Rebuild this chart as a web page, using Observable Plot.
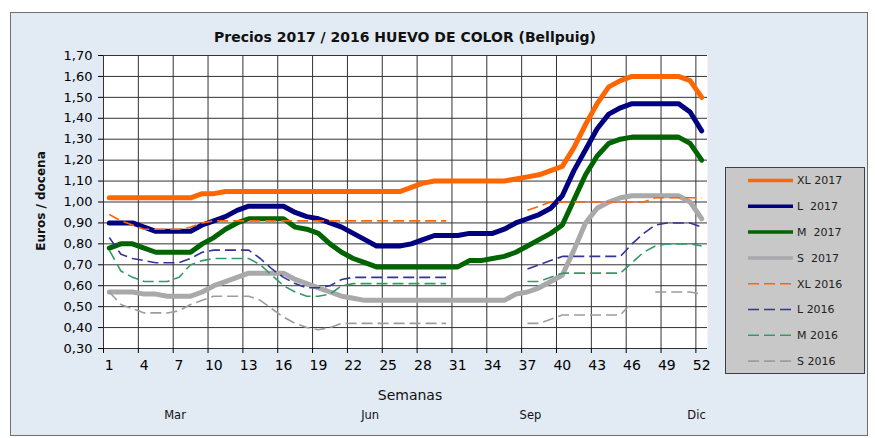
<!DOCTYPE html>
<html>
<head>
<meta charset="utf-8">
<script src="https://cdn.jsdelivr.net/npm/d3@7"></script>
<script src="https://cdn.jsdelivr.net/npm/@observablehq/plot@0.6"></script>
<style>
  body { margin: 0; background: #ffffff; }
  #chart svg text { font-family: "DejaVu Sans", Verdana, sans-serif; }
</style>
</head>
<body>
<div id="chart"></div>
<script>
// ---------------- DATA ----------------
const weeks = [1,2,3,4,5,6,7,8,9,10,11,12,13,14,15,16,17,18,19,20,21,22,23,24,25,26,
  27,28,29,30,31,32,33,34,35,36,37,38,39,40,41,42,43,44,45,46,47,48,49,50,51,52];

const xl2017 = [1.02,1.02,1.02,1.02,1.02,1.02,1.02,1.02,1.04,1.04,
  1.05,1.05,1.05,1.05,1.05,1.05,1.05,1.05,1.05,1.05,
  1.05,1.05,1.05,1.05,1.05,1.05,1.07,1.09,1.10,1.10,
  1.10,1.10,1.10,1.10,1.10,1.11,1.12,1.13,1.15,1.17,
  1.26,1.37,1.47,1.55,1.58,1.60,1.60,1.60,1.60,1.60,
  1.58,1.50];
const l2017 = [0.90,0.90,0.90,0.88,0.86,0.86,0.86,0.86,0.89,0.91,
  0.93,0.96,0.98,0.98,0.98,0.98,0.95,0.93,0.92,0.90,
  0.88,0.85,0.82,0.79,0.79,0.79,0.80,0.82,0.84,0.84,
  0.84,0.85,0.85,0.85,0.87,0.90,0.92,0.94,0.97,1.03,
  1.15,1.25,1.35,1.42,1.45,1.47,1.47,1.47,1.47,1.47,
  1.43,1.34];
const m2017 = [0.78,0.80,0.80,0.78,0.76,0.76,0.76,0.76,0.80,0.83,
  0.87,0.90,0.92,0.92,0.92,0.92,0.88,0.87,0.85,0.80,
  0.76,0.73,0.71,0.69,0.69,0.69,0.69,0.69,0.69,0.69,
  0.69,0.72,0.72,0.73,0.74,0.76,0.79,0.82,0.85,0.89,
  1.01,1.13,1.22,1.28,1.30,1.31,1.31,1.31,1.31,1.31,
  1.28,1.20];
const s2017 = [0.57,0.57,0.57,0.56,0.56,0.55,0.55,0.55,0.57,0.60,
  0.62,0.64,0.66,0.66,0.66,0.66,0.63,0.61,0.59,0.57,
  0.55,0.54,0.53,0.53,0.53,0.53,0.53,0.53,0.53,0.53,
  0.53,0.53,0.53,0.53,0.53,0.56,0.57,0.59,0.62,0.65,
  0.77,0.90,0.97,1.00,1.02,1.03,1.03,1.03,1.03,1.03,
  1.00,0.92];
const xl2016 = [0.94,0.91,0.89,0.87,0.87,0.87,0.87,0.88,0.90,0.91,
  0.91,0.91,0.91,0.91,0.91,0.91,0.91,0.91,0.91,0.91,
  0.91,0.91,0.91,0.91,0.91,0.91,0.91,0.91,0.91,0.91,
  null,null,null,null,null,null,0.96,0.98,1.00,1.00,
  1.00,1.00,1.00,1.00,1.00,1.00,1.00,1.02,1.02,1.02,
  1.02,1.02];
const l2016 = [0.83,0.75,0.73,0.72,0.71,0.71,0.71,0.73,0.76,0.77,
  0.77,0.77,0.77,0.73,0.68,0.64,0.61,0.59,0.59,0.60,
  0.63,0.64,0.64,0.64,0.64,0.64,0.64,0.64,0.64,0.64,
  null,null,null,null,null,null,0.68,0.70,0.72,0.74,
  0.74,0.74,0.74,0.74,0.74,0.80,0.85,0.89,0.90,0.90,
  0.90,0.88];
const m2016 = [0.77,0.67,0.64,0.62,0.62,0.62,0.64,0.70,0.72,0.73,
  0.73,0.73,0.73,0.70,0.65,0.60,0.57,0.55,0.55,0.56,
  0.60,0.61,0.61,0.61,0.61,0.61,0.61,0.61,0.61,0.61,
  null,null,null,null,null,null,0.62,0.62,0.64,0.66,
  0.66,0.66,0.66,0.66,0.66,0.71,0.76,0.79,0.80,0.80,
  0.80,0.79];
const s2016 = [0.57,0.51,0.49,0.47,0.47,0.47,0.48,0.51,0.53,0.55,
  0.55,0.55,0.55,0.53,0.49,0.45,0.42,0.40,0.39,0.40,
  0.42,0.42,0.42,0.42,0.42,0.42,0.42,0.42,0.42,0.42,
  null,null,null,null,null,null,0.42,0.42,0.44,0.46,
  0.46,0.46,0.46,0.46,0.46,0.52,null,0.57,0.57,0.57,
  0.57,0.56];

const seriesNames = ["XL 2017","L  2017","M  2017","S  2017","XL 2016","L 2016","M 2016","S 2016"];
const seriesValues = [xl2017, l2017, m2017, s2017, xl2016, l2016, m2016, s2016];

const yTicks = [0.30,0.40,0.50,0.60,0.70,0.80,0.90,1.00,1.10,1.20,1.30,1.40,1.50,1.60,1.70];
const xTickLabels = [1,4,7,10,13,16,19,22,25,28,31,34,37,40,43,46,49,52];
const xGridWeeks = [0.5,3.5,6.5,9.5,12.5,15.5,18.5,21.5,24.5,27.5,30.5,33.5,36.5,39.5,42.5,45.5,48.5,51.5];
const monthNames = ["Mar","Jun","Sep","Dic"];
const monthWeeks = [6.7,23.5,37.3,51.6];

const titleText = "Precios 2017 / 2016 HUEVO DE COLOR (Bellpuig)";
const yTitle = "Euros / docena";
const xTitle = "Semanas";

// ---------------- STYLES ----------------
const seriesStyles = [
  {stroke: "#FF6600", width: 5, dash: null},
  {stroke: "#000080", width: 5, dash: null},
  {stroke: "#006400", width: 5, dash: null},
  {stroke: "#A9A9AB", width: 5, dash: null},
  {stroke: "#FF6600", width: 1.6, dash: "11,5"},
  {stroke: "#33339A", width: 1.6, dash: "11,5"},
  {stroke: "#349968", width: 1.6, dash: "11,5"},
  {stroke: "#9C9C9C", width: 1.6, dash: "11,5"}
];

const rows = seriesValues.map(vals => weeks.map((w, i) => ({week: w, value: vals[i]})));
const fmt = d => d.toFixed(2).replace(".", ",");

const lineMarks = rows.map((data, i) => Plot.line(data, {
  x: "week", y: "value",
  stroke: seriesStyles[i].stroke,
  strokeWidth: seriesStyles[i].width,
  strokeDasharray: seriesStyles[i].dash,
  strokeLinejoin: "round",
  strokeLinecap: seriesStyles[i].dash ? "butt" : "round"
}));

const plot = Plot.plot({
  width: 875, height: 438,
  marginLeft: 103, marginRight: 168, marginTop: 55, marginBottom: 90,
  x: {domain: [0.5, 52.5]},
  y: {domain: [0.30, 1.70]},
  style: {background: "transparent", fontFamily: "DejaVu Sans", fontSize: "13px", color: "#000"},
  marks: [
    Plot.frame({fill: "white", stroke: null}),
    Plot.ruleY(yTicks, {stroke: "#333", strokeWidth: 1}),
    Plot.ruleX(xGridWeeks, {stroke: "#333", strokeWidth: 1}),
    Plot.axisY({ticks: yTicks, tickFormat: fmt, tickSize: 5, tickPadding: 6, label: null, fontSize: 13, stroke: "#000"}),
    Plot.axisX({ticks: xGridWeeks, tickFormat: () => "", tickSize: 5, label: null, stroke: "#000"}),
    Plot.axisX({ticks: xTickLabels, tickSize: 0, tickPadding: 12, label: null, fontSize: 14}),
    ...lineMarks
  ]
});

const svg = d3.select(plot);
const xs = plot.scale("x");

// background panel with border
svg.insert("rect", ":first-child")
  .attr("x", 10.5).attr("y", 12.5).attr("width", 857).attr("height", 423)
  .attr("fill", "#E2EAF4").attr("stroke", "#6f6f6f").attr("stroke-width", 1);

// title
svg.append("text").attr("x", 405).attr("y", 42).attr("text-anchor", "middle")
  .attr("font-weight", "bold").attr("font-size", 14).attr("fill", "#111").text(titleText);

// y title
svg.append("text").attr("transform", "translate(45,201) rotate(-90)").attr("text-anchor", "middle")
  .attr("font-weight", "bold").attr("font-size", 12).attr("fill", "#111").text(yTitle);

// x title
svg.append("text").attr("x", 410).attr("y", 400).attr("text-anchor", "middle")
  .attr("font-size", 14).attr("fill", "#111").text(xTitle);

// month labels
monthNames.forEach((m, i) => {
  svg.append("text").attr("x", xs.apply(monthWeeks[i])).attr("y", 419).attr("text-anchor", "middle")
    .attr("font-size", 11.5).attr("fill", "#111").text(m);
});

// legend
const lg = svg.append("g").attr("text-anchor", "start");
lg.append("rect").attr("x", 725.5).attr("y", 167.5).attr("width", 139).attr("height", 206)
  .attr("fill", "#C8C8C8").attr("stroke", "#404040").attr("stroke-width", 1);
seriesNames.forEach((name, i) => {
  const y = 180.5 + i * 25.8;
  const st = seriesStyles[i];
  lg.append("line").attr("x1", 748).attr("x2", 793).attr("y1", y).attr("y2", y)
    .attr("stroke", st.stroke).attr("stroke-width", st.dash ? 1.6 : 3.5)
    .attr("stroke-dasharray", st.dash).attr("stroke-linecap", "butt");
  lg.append("text").attr("x", 797).attr("y", y).attr("dy", "0.36em").attr("text-anchor", "start")
    .attr("font-size", 11).attr("fill", "#222").style("white-space", "pre").text(name);
});

document.getElementById("chart").appendChild(plot);
</script>
</body>
</html>
